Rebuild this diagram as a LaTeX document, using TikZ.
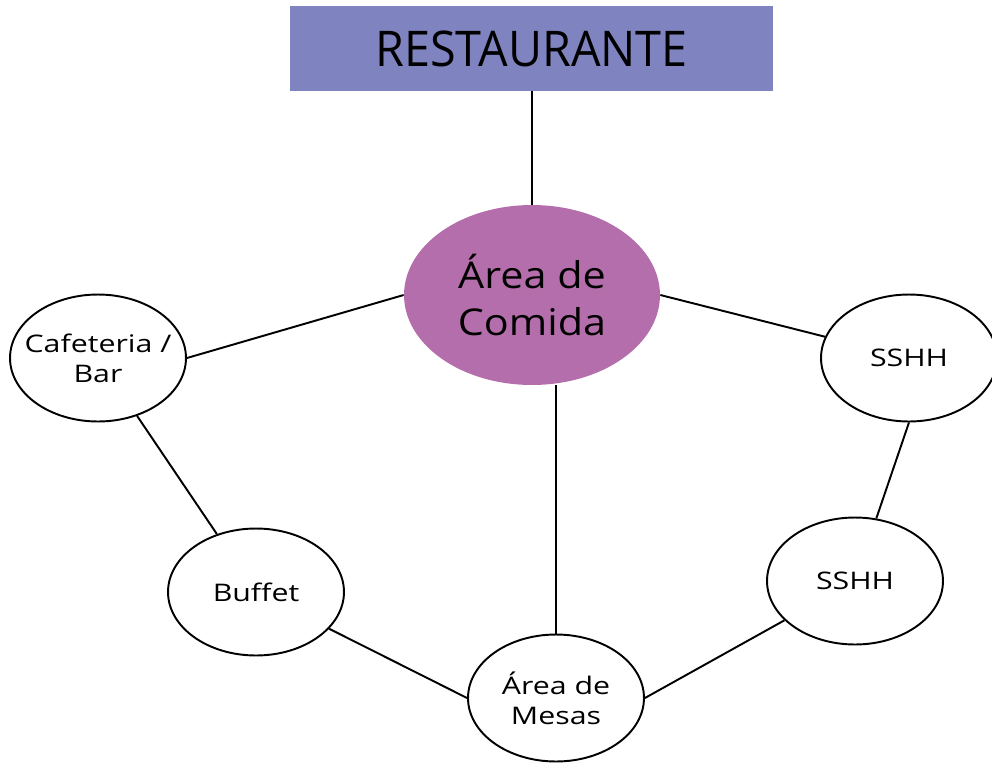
\documentclass[tikz,border=0pt]{standalone}
\usepackage{fontspec}
\setmainfont{Open Sans}
\newfontfamily\titlefont[FakeStretch=0.95]{Open Sans}
\newfontfamily\bigfont[FakeStretch=1.12]{Open Sans}
\newfontfamily\placefont[FakeStretch=1.25]{Open Sans}
\usetikzlibrary{shapes.geometric}
\definecolor{titlebox}{HTML}{7F84C1}
\definecolor{comidafill}{HTML}{B56EAC}
\tikzset{
  titlecard/.style={fill=titlebox,draw=none,minimum width=9.66cm,minimum height=1.7cm,inner sep=0pt,font=\titlefont\fontsize{28}{32}\selectfont},
  bigplace/.style={ellipse,fill=comidafill,draw=none,minimum width=5.12cm,minimum height=3.6cm,inner sep=0pt},
  place/.style={ellipse,draw=black,line width=1.1pt,fill=white,minimum width=3.52cm,minimum height=2.54cm,inner sep=0pt},
  bigtext/.style={align=center,font=\bigfont\fontsize{21}{27}\selectfont},
  placetext/.style={align=center,font=\placefont\fontsize{13.8}{17}\selectfont},
  link/.style={line width=1.1pt,draw=black}
}
\begin{document}
\begin{tikzpicture}[x=0.02cm,y=-0.02cm]
  \useasboundingbox (0,0) rectangle (992,762);
  \node[titlecard] (rest) at (531.5,48.5) {RESTAURANTE};
  \node[bigplace,label={[bigtext]center:Área de\\Comida}] (comida) at (532,295) {};
  \node[place,label={[placetext]center:Cafeteria /\\Bar}] (cafe) at (98,358) {};
  \node[place,label={[placetext]center:SSHH}] (sshhA) at (909,358) {};
  \node[place,label={[placetext]center:SSHH}] (sshhB) at (855,581) {};
  \node[place,label={[placetext]center:Buffet}] (buffet) at (256,592) {};
  \node[place,label={[placetext]center:Área de\\Mesas}] (mesas) at (556,698) {};
  \draw[link] (rest.south -| comida.north) -- (comida.north);
  \draw[link] (comida.west) -- (cafe.east);
  \draw[link] (comida.east) -- (sshhA);
  \draw[link] (mesas.north) -- (mesas.north |- comida.south);
  \draw[link] (cafe) -- (buffet);
  \draw[link] (buffet) -- (mesas.west);
  \draw[link] (mesas.east) -- (sshhB);
  \draw[link] (sshhA.south) -- (sshhB);
\end{tikzpicture}
\end{document}
